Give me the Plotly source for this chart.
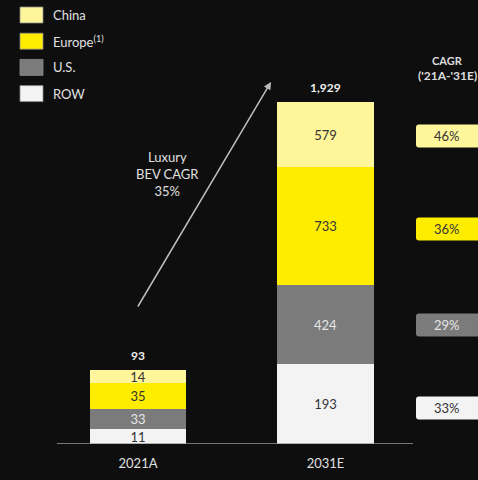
import plotly.graph_objects as go

# ---- data ----
categories = ["2021A", "2031E"]
regions = ["China", "Europe<sup>(1)</sup>", "U.S.", "ROW"]
china = [14, 579]
europe = [35, 733]
us = [33, 424]
row = [11, 193]
totals = ["93", "1,929"]
cagr_labels = ["46%", "36%", "29%", "33%"]
bev_cagr = "Luxury<br>BEV CAGR<br>35%"

# drawn (schematic, not-to-scale) segment heights as they appear in the picture
china_drawn = [12.7, 65]
europe_drawn = [26, 118]
us_drawn = [20, 79]
row_drawn = [15, 80]

# ---- styles ----
W, H = 478, 480
BASE = 444  # pixel row of the baseline
BG = "#0e0e0e"
FONT = "Lato"
colors = {"China": "#fff59a", "Europe<sup>(1)</sup>": "#ffed00", "U.S.": "#7b7b7b", "ROW": "#f3f3f3"}
text_colors = {"China": "#333333", "Europe<sup>(1)</sup>": "#333333", "U.S.": "#e6e6e6", "ROW": "#333333"}

stack = [  # bottom to top
    ("ROW", row, row_drawn),
    ("U.S.", us, us_drawn),
    ("Europe<sup>(1)</sup>", europe, europe_drawn),
    ("China", china, china_drawn),
]

fig = go.Figure()
for name, vals, drawn in stack:
    fig.add_trace(go.Bar(
        x=categories, y=drawn, name=name,
        text=[str(v) for v in vals], textposition="inside",
        insidetextanchor="middle", textangle=0,
        textfont=dict(family=FONT, size=13, color=text_colors[name]),
        marker=dict(color=colors[name], line=dict(width=0)),
        width=0.517, showlegend=False, hoverinfo="skip",
    ))

def px_x(px):
    return px / W

def px_y(py):
    return BASE - py

annotations = []
shapes = []

# totals above bars
bar_tops = [sum(d[i] for _, _, d in stack) for i in range(len(categories))]
for i, cat in enumerate(categories):
    annotations.append(dict(x=cat, y=bar_tops[i], yshift=15, text=f"<b>{totals[i]}</b>",
                            xanchor="center", showarrow=False,
                            font=dict(family=FONT, size=12, color="#f0f0f0")))

# baseline
shapes.append(dict(type="line", xref="paper", yref="y", x0=px_x(57), x1=px_x(413), y0=0, y1=0,
                   line=dict(color="#9a9a9a", width=1.5)))

# legend (top-left), top to bottom: China, Europe, U.S., ROW
legend_order = ["China", "Europe<sup>(1)</sup>", "U.S.", "ROW"]
for k, name in enumerate(legend_order):
    top = 7 + k * 26.2
    shapes.append(dict(type="rect", xref="paper", yref="y", x0=px_x(20), x1=px_x(43),
                       y0=px_y(top + 16), y1=px_y(top), fillcolor=colors[name],
                       line=dict(color="#8a8a8a", width=0.8)))
    annotations.append(dict(xref="paper", yref="y", x=px_x(51), y=px_y(top + 8), xanchor="left",
                            yanchor="middle", text=name, showarrow=False,
                            font=dict(family=FONT, size=13, color="#e0e0e0")))

# CAGR header
annotations.append(dict(xref="paper", yref="y", x=px_x(447), y=px_y(60), text="<b>CAGR</b>",
                        xanchor="center", yanchor="middle", showarrow=False,
                        font=dict(family=FONT, size=11, color="#dddddd")))
annotations.append(dict(xref="paper", yref="y", x=px_x(416), y=px_y(75), xanchor="left",
                        yanchor="middle", text="<b>('21A-'31E)</b>", showarrow=False,
                        font=dict(family=FONT, size=12, color="#dddddd")))

# CAGR badges aligned to 2031E segment centres
seg_bottom = 0
centers = {}
for name, vals, drawn in stack:
    centers[name] = seg_bottom + drawn[1] / 2
    seg_bottom += drawn[1]
badge_names = ["China", "Europe<sup>(1)</sup>", "U.S.", "ROW"]
badge_nudge = [-1.5, -3, -0.5, -4]  # small vertical offsets seen in the picture
for name, lab, nudge in zip(badge_names, cagr_labels, badge_nudge):
    c = centers[name] + nudge
    x0, x1 = px_x(416), px_x(500)
    h = 11.5
    r = 3
    rx = r / W
    path = (f"M {x0 + rx},{c - h} L {x1},{c - h} L {x1},{c + h} L {x0 + rx},{c + h} "
            f"Q {x0},{c + h} {x0},{c + h - r} L {x0},{c - h + r} Q {x0},{c - h} {x0 + rx},{c - h} Z")
    shapes.append(dict(type="path", xref="paper", yref="y", path=path, fillcolor=colors[name],
                       line=dict(width=0)))
    annotations.append(dict(xref="paper", yref="y", x=px_x(447), y=c, text=lab, showarrow=False,
                            xanchor="center", yanchor="middle",
                            font=dict(family=FONT, size=13, color=text_colors[name])))

# growth arrow and label
annotations.append(dict(xref="paper", yref="y", x=px_x(271), y=px_y(82), ax=-134, ay=226,
                        axref="pixel", ayref="pixel", text="", showarrow=True,
                        arrowhead=2, arrowsize=1, arrowwidth=1.5, arrowcolor="#bdbdbd", standoff=0))
annotations.append(dict(xref="paper", yref="y", x=px_x(167), y=px_y(174), text=bev_cagr,
                        xanchor="center", yanchor="middle",
                        showarrow=False, font=dict(family=FONT, size=13, color="#e0e0e0")))

fig.update_layout(
    width=W, height=H, barmode="stack",
    margin=dict(l=0, r=0, t=0, b=H - BASE),
    paper_bgcolor=BG, plot_bgcolor=BG,
    uniformtext=dict(minsize=12, mode="show"),
    shapes=shapes, annotations=annotations,
    xaxis=dict(type="category", range=[-0.736, 1.813], showgrid=False, zeroline=False,
               showline=False, ticks="", ticklabelstandoff=10,
               tickfont=dict(family=FONT, size=13, color="#e0e0e0")),
    yaxis=dict(range=[0, BASE], visible=False, showgrid=False, zeroline=False),
)

fig.write_html("out.html")
